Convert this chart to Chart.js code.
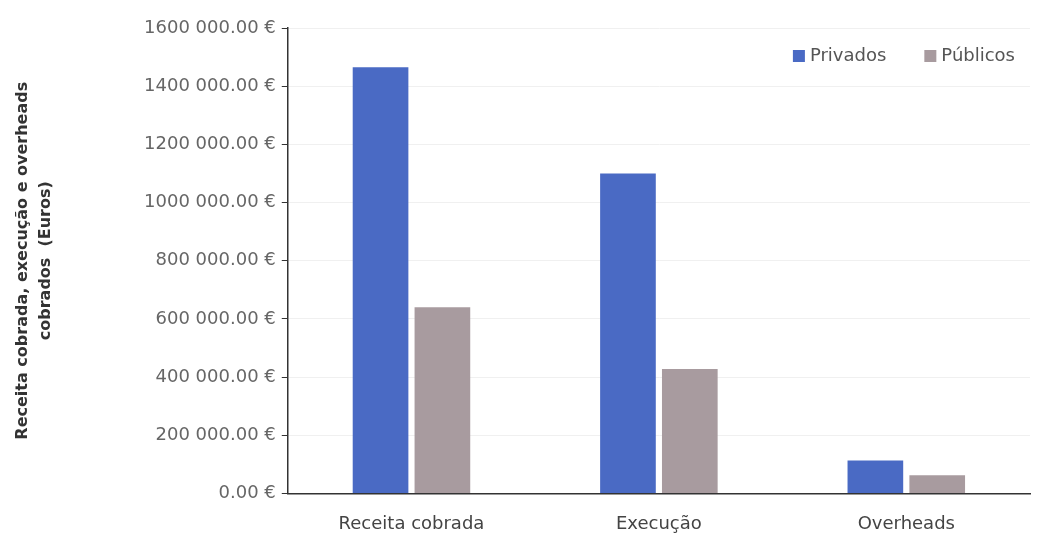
<!DOCTYPE html>
<html>
<head>
<meta charset="utf-8">
<script src="https://cdn.jsdelivr.net/npm/chart.js@4"></script>
<style>
  html, body { margin: 0; padding: 0; background: #fff; }
  #wrap { width: 1037px; height: 538px; }
</style>
</head>
<body>
<div id="wrap"><canvas id="receita"></canvas></div>
<script>
const categorias = ["Receita cobrada", "Execução", "Overheads"];
const privados = [1465000, 1100000, 113000];
const publicos = [640000, 428000, 62000];
const yTitulo = ["Receita cobrada, execução e overheads", "cobrados  (Euros)"];

const euro = (v) => {
    const s = String(Math.round(v));
    const inteiro = s.length > 3 ? s.slice(0, -3) + " " + s.slice(-3) : s;
    return inteiro + ".00 €";
};

// legenda dentro da area do grafico, canto superior direito
const legendaInterna = {
    id: "legendaInterna",
    afterDraw(chart) {
        const ctx = chart.ctx;
        const area = chart.chartArea;
        ctx.save();
        ctx.font = "18px 'DejaVu Sans'";
        ctx.textBaseline = "middle";
        let x = area.right - 15;
        const y = area.top + 28;
        const items = chart.data.datasets.slice().reverse();
        items.forEach((ds) => {
            const w = ctx.measureText(ds.label).width;
            x -= w;
            ctx.fillStyle = "#555";
            ctx.fillText(ds.label, x, y);
            ctx.fillStyle = ds.backgroundColor;
            ctx.fillRect(x - 17, y - 6, 12, 12);
            x -= 55;
        });
        ctx.restore();
    },
};

new Chart(document.getElementById("receita"), {
    type: "bar",
    data: {
        labels: categorias,
        datasets: [
            {
                label: "Privados",
                data: privados,
                backgroundColor: "#4a6ac4",
            },
            {
                label: "Públicos",
                data: publicos,
                backgroundColor: "#a89b9f",
            },
        ],
    },
    options: {
        responsive: true,
        maintainAspectRatio: false,
        animation: false,
        categoryPercentage: 0.5,
        barPercentage: 0.9,
        layout: {
            padding: { left: 7, right: 7, top: 28, bottom: -9 },
        },
        plugins: {
            legend: { display: false },
            tooltip: { enabled: false },
        },
        scales: {
            x: {
                grid: { display: false },
                border: { color: "#333", width: 1.5 },
                ticks: {
                    color: "#444",
                    font: { family: "DejaVu Sans", size: 18 },
                    padding: 12,
                },
            },
            y: {
                min: 0,
                max: 1600000,
                ticks: {
                    stepSize: 200000,
                    color: "#666",
                    font: { family: "DejaVu Sans", size: 18 },
                    padding: 6,
                    callback: (v) => euro(v),
                },
                grid: {
                    color: "#f0f0f0",
                    tickColor: "#333",
                    tickLength: 6,
                },
                border: { color: "#333", width: 1.5 },
                title: {
                    display: true,
                    text: yTitulo,
                    color: "#333",
                    font: { family: "DejaVu Sans", size: 16, weight: "bold", lineHeight: 1.44 },
                    padding: { top: 4, bottom: 81 },
                },
            },
        },
    },
    plugins: [legendaInterna],
});
</script>
</body>
</html>
